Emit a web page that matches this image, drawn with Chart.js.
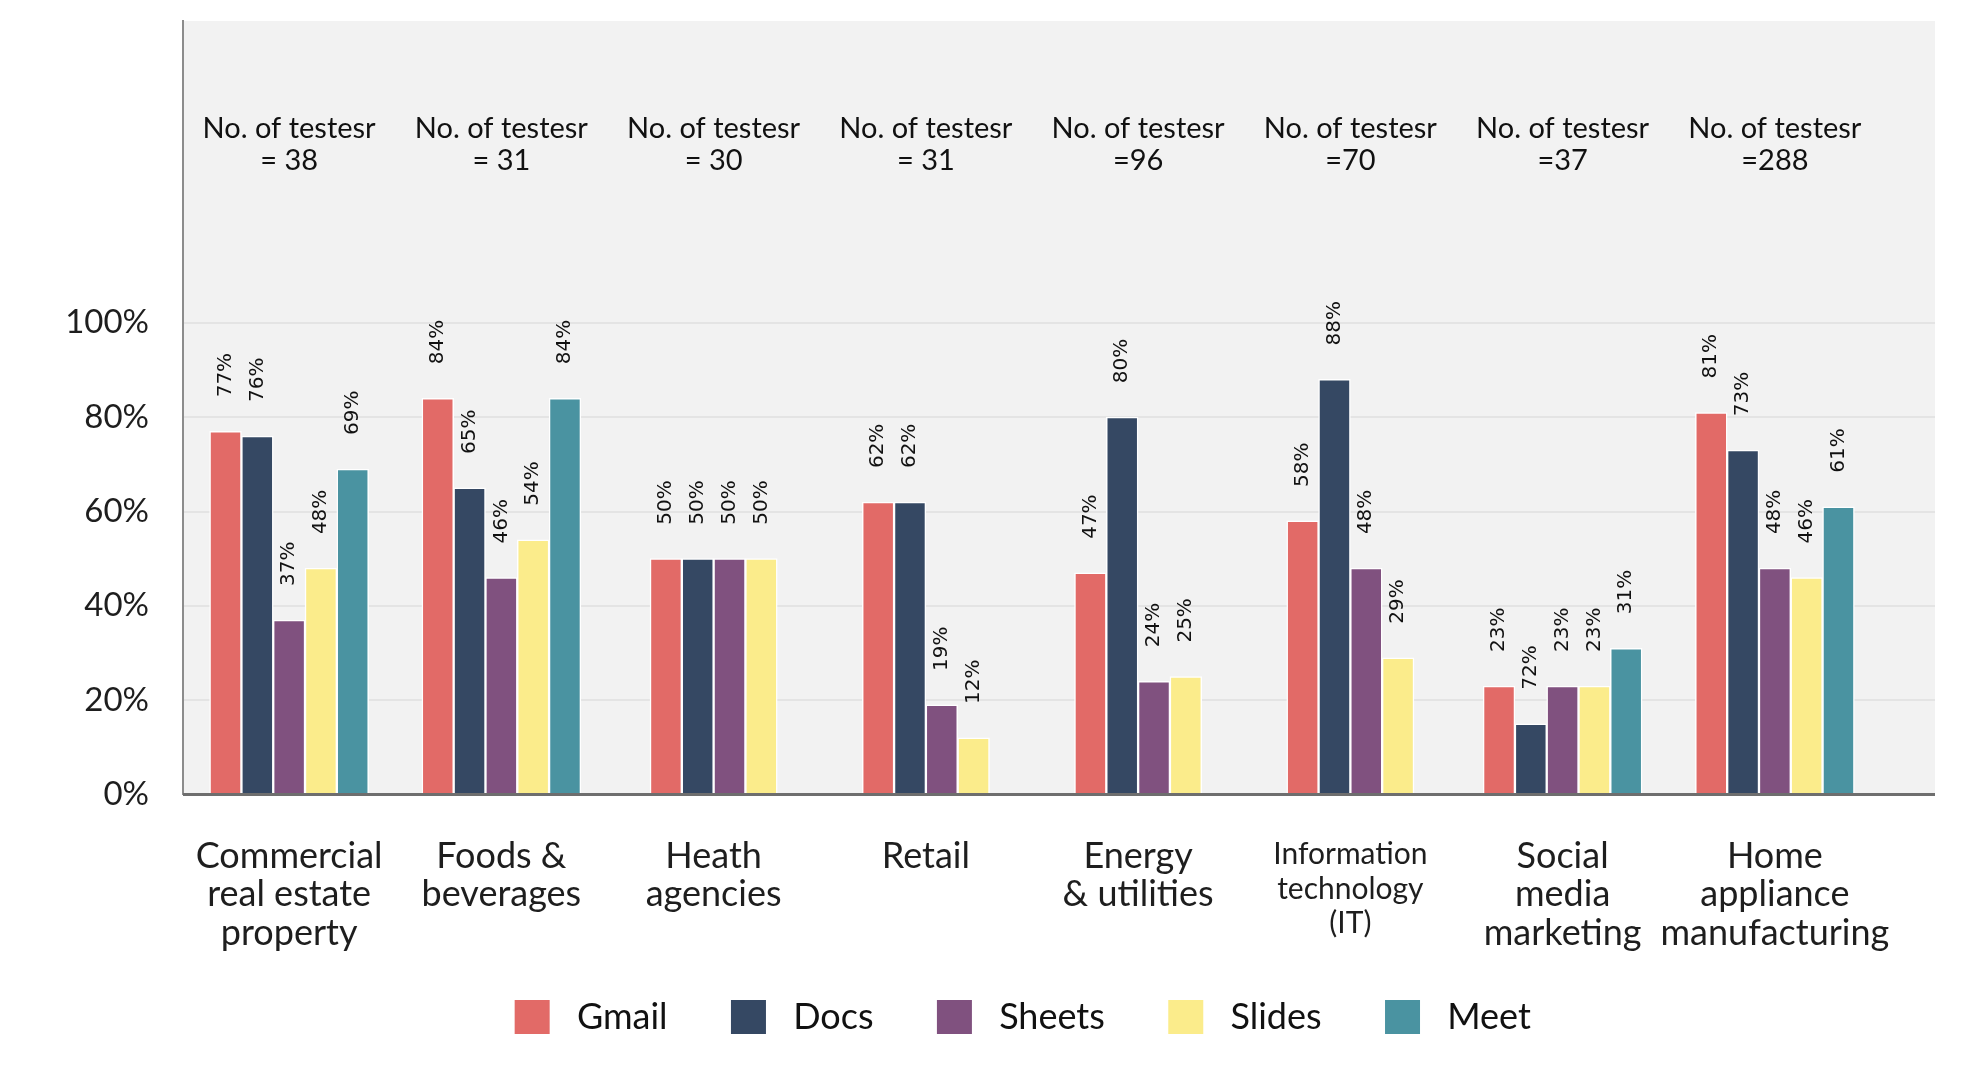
<!DOCTYPE html>
<html>
<head>
<meta charset="utf-8">
<title>Workspace app adoption by industry</title>
<script src="https://cdn.jsdelivr.net/npm/chart.js@4.4.1/dist/chart.umd.min.js"></script>
<style>
  html, body { margin: 0; background: #fff; }
  canvas { display: block; }
</style>
</head>
<body>
<canvas id="chart" width="1970" height="1080"></canvas>
<script>
const industries = [
  ['Commercial', 'real estate', 'property'],
  ['Foods &', 'beverages'],
  ['Heath', 'agencies'],
  ['Retail'],
  ['Energy', '& utilities'],
  ['Information', 'technology', '(IT)'],
  ['Social', 'media', 'marketing'],
  ['Home', 'appliance', 'manufacturing']
];
const testerCounts = ['= 38', '= 31', '= 30', '= 31', '=96', '=70', '=37', '=288'];

const gmail  = [77, 84, 50, 62, 47, 58, 23, 81];
const docs   = [76, 65, 50, 62, 80, 88, 15, 73];
const sheets = [37, 46, 50, 19, 24, 48, 23, 48];
const slides = [48, 54, 50, 12, 25, 29, 23, 46];
const meet   = [69, 84, null, null, null, null, 31, 61];

// the source prints 72% over the short Docs bar in Social media marketing
const labelOverrides = { Docs: { 6: '72%' } };

const PLOT_BG = '#f2f2f2';
const GRID_COLOR = '#e4e4e4';
const PLOT_EXTRA_RIGHT = 54;   // grey panel runs a bit past the last group
const LABEL_GAP = 34;          // space between bar top and its rotated label

Chart.defaults.font.family = 'Lato, "Noto Sans", sans-serif';
Chart.defaults.color = '#1e1e1e';

const series = (label, data, color) => ({
  label,
  data,
  backgroundColor: color,
  borderColor: '#ffffff',
  borderWidth: 1.5,
  barThickness: 31.8,
  skipNull: true
});

const plotBackground = {
  id: 'plotBackground',
  beforeDraw(chart) {
    const { ctx, chartArea: a, scales: { y } } = chart;
    const right = a.right + PLOT_EXTRA_RIGHT;
    ctx.save();
    ctx.fillStyle = PLOT_BG;
    ctx.fillRect(a.left, a.top, right - a.left, a.bottom - a.top);
    ctx.strokeStyle = GRID_COLOR;
    ctx.lineWidth = 2;
    y.ticks.forEach(t => {
      if (t.value <= 0 || t.value > 120) return;
      const py = Math.round(y.getPixelForValue(t.value));
      ctx.beginPath();
      ctx.moveTo(a.left, py);
      ctx.lineTo(right, py);
      ctx.stroke();
    });
    ctx.restore();
  },
  afterDatasetsDraw(chart) {
    const { ctx, chartArea: a } = chart;
    ctx.save();
    ctx.strokeStyle = '#6e6e6e';
    ctx.lineWidth = 3;
    ctx.beginPath();
    ctx.moveTo(a.left, a.bottom);
    ctx.lineTo(a.right + PLOT_EXTRA_RIGHT, a.bottom);
    ctx.stroke();
    ctx.restore();
  }
};

const barLabels = {
  id: 'barLabels',
  afterDatasetsDraw(chart) {
    const { ctx } = chart;
    ctx.save();
    ctx.font = '20px "DejaVu Sans", sans-serif';
    ctx.fillStyle = '#111';
    ctx.textAlign = 'left';
    ctx.textBaseline = 'middle';
    chart.data.datasets.forEach((ds, di) => {
      const meta = chart.getDatasetMeta(di);
      meta.data.forEach((bar, i) => {
        const v = ds.data[i];
        if (v == null) return;
        const text = (labelOverrides[ds.label] || {})[i] || v + '%';
        ctx.save();
        ctx.translate(bar.x, bar.y - LABEL_GAP);
        ctx.rotate(-Math.PI / 2);
        ctx.fillText(text, 0, 0);
        ctx.restore();
      });
    });
    ctx.restore();
  }
};

const testerNotes = {
  id: 'testerNotes',
  afterDraw(chart) {
    const { ctx, scales: { x, y } } = chart;
    ctx.save();
    ctx.font = '29px Lato, sans-serif';
    ctx.fillStyle = '#111';
    ctx.textAlign = 'center';
    ctx.textBaseline = 'middle';
    testerCounts.forEach((count, i) => {
      const px = x.getPixelForValue(i);
      ctx.fillText('No. of testesr', px, y.getPixelForValue(141.2));
      ctx.fillText(count, px, y.getPixelForValue(134.4));
    });
    ctx.restore();
  }
};

new Chart(document.getElementById('chart'), {
  type: 'bar',
  data: {
    labels: industries,
    datasets: [
      series('Gmail', gmail, '#e26a67'),
      series('Docs', docs, '#354863'),
      series('Sheets', sheets, '#80517f'),
      series('Slides', slides, '#fbec8b'),
      series('Meet', meet, '#4a93a1')
    ]
  },
  options: {
    responsive: false,
    devicePixelRatio: 1,
    animation: false,
    layout: { padding: { top: 21, right: 0, bottom: 35, left: 0 } },
    plugins: {
      tooltip: { enabled: false },
      legend: {
        position: 'bottom',
        fullSize: false,
        labels: {
          boxWidth: 35,
          boxHeight: 34,
          padding: 45,
          color: '#111',
          font: { size: 36 },
          // a leading space widens the box-to-text gap, trailing ones the gap between items
          generateLabels(chart) {
            return Chart.defaults.plugins.legend.labels.generateLabels(chart)
              .map(item => ({ ...item, text: ' ' + item.text + '  ', lineWidth: 0 }));
          }
        }
      }
    },
    scales: {
      x: {
        offset: true,
        grid: { display: false, drawTicks: false },
        border: { display: false },
        ticks: {
          padding: 43,
          maxRotation: 0,
          autoSkip: false,
          color: '#1e1e1e',
          font: ctx => ctx.index === 5
            ? { size: 30, lineHeight: 1.15 }
            : { size: 36, lineHeight: 1.06 }
        },
        afterFit: s => { s.height = 159.5; }
      },
      y: {
        min: 0,
        max: 164,
        grid: { display: false, drawTicks: false },
        border: { color: '#8c8c8c', width: 2 },
        ticks: {
          stepSize: 20,
          padding: 34,
          color: '#1e1e1e',
          font: { size: 33 },
          callback: v => (v <= 100 ? v + '%' : null)
        },
        afterFit: s => { s.width = 183; s.paddingTop = 0; }
      },
      // empty right-hand axis: keeps the plot clear of the right edge
      yRight: {
        position: 'right',
        grid: { display: false, drawTicks: false },
        border: { display: false },
        ticks: { display: false },
        afterFit: s => { s.width = 89; }
      }
    }
  },
  plugins: [plotBackground, barLabels, testerNotes]
});
</script>
</body>
</html>
